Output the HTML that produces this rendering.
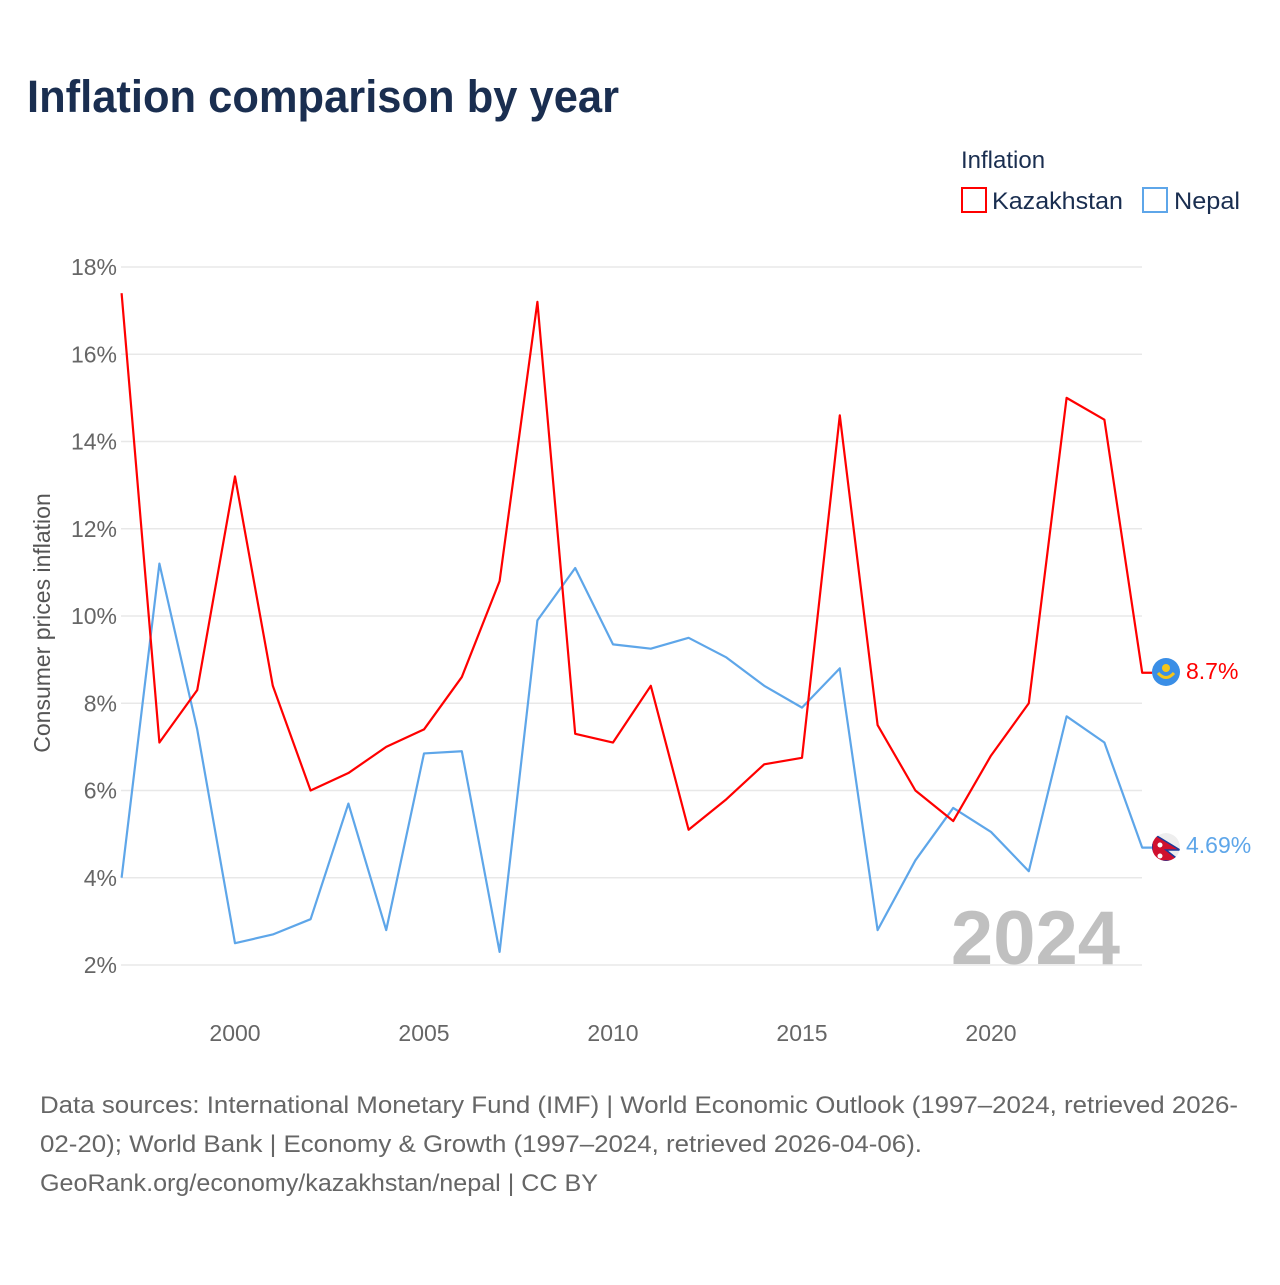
<!DOCTYPE html>
<html><head><meta charset="utf-8"><style>
body{margin:0;background:#fff;font-family:"Liberation Sans",sans-serif;}
</style></head><body>
<svg width="1280" height="1280" xmlns="http://www.w3.org/2000/svg" font-family="Liberation Sans, sans-serif">
<defs><clipPath id="npc"><circle cx="1166" cy="847" r="14"/></clipPath></defs>
<text x="27" y="112" font-size="45" font-weight="bold" fill="#1a2e50" textLength="592" lengthAdjust="spacingAndGlyphs">Inflation comparison by year</text>
<text x="961" y="168" font-size="24" fill="#1a2e50">Inflation</text>
<g><rect x="962" y="188" width="24" height="24" fill="none" stroke="#ff0000" stroke-width="2"/><text x="992" y="209" font-size="24" fill="#1a2e50" textLength="131" lengthAdjust="spacingAndGlyphs">Kazakhstan</text></g>
<g><rect x="1143" y="188" width="24" height="24" fill="none" stroke="#5ea6e9" stroke-width="2"/><text x="1174" y="209" font-size="24" fill="#1a2e50" textLength="66" lengthAdjust="spacingAndGlyphs">Nepal</text></g>
<g id="grid"></g><g id="yt"></g><g id="xt"></g>
<text transform="translate(50,623) rotate(-90)" text-anchor="middle" font-size="23" fill="#555">Consumer prices inflation</text>
<text x="1120" y="964" text-anchor="end" font-size="76" font-weight="bold" fill="#c0c0c0">2024</text>
<g id="series"></g>
<g><circle cx="1166" cy="672" r="14" fill="#3a8ee6"/><circle cx="1166" cy="668" r="4" fill="#f5c518"/><path d="M1158 673 Q1166 682 1174 673" stroke="#f5c518" stroke-width="3" fill="none"/></g>
<text x="1186" y="679" font-size="23" fill="#ff0000">8.7%</text>
<g clip-path="url(#npc)"><circle cx="1166" cy="847" r="14" fill="#eee"/><path d="M1152 833 L1180 850 L1166 850 L1180 861 L1152 861 Z" fill="#d0102e" stroke="#1a3a9a" stroke-width="1.5"/><circle cx="1160" cy="845" r="2.5" fill="#fff"/><circle cx="1160" cy="856" r="2.5" fill="#fff"/></g>
<text x="1186" y="853" font-size="23" fill="#5ea6e9">4.69%</text>
<text font-size="24" fill="#666"><tspan x="40" y="1113" textLength="1198" lengthAdjust="spacingAndGlyphs">Data sources: International Monetary Fund (IMF) | World Economic Outlook (1997–2024, retrieved 2026-</tspan><tspan x="40" y="1152" textLength="882" lengthAdjust="spacingAndGlyphs">02-20); World Bank | Economy &amp; Growth (1997–2024, retrieved 2026-04-06).</tspan><tspan x="40" y="1191" textLength="558" lengthAdjust="spacingAndGlyphs">GeoRank.org/economy/kazakhstan/nepal | CC BY</tspan></text>
</svg>
<script>
const years=[1997,1998,1999,2000,2001,2002,2003,2004,2005,2006,2007,2008,2009,2010,2011,2012,2013,2014,2015,2016,2017,2018,2019,2020,2021,2022,2023,2024];
const kazakhstan=[17.4,7.1,8.3,13.2,8.4,6.0,6.4,7.0,7.4,8.6,10.8,17.2,7.3,7.1,8.4,5.1,5.8,6.6,6.75,14.6,7.5,6.0,5.3,6.8,8.0,15.0,14.5,8.7];
const nepal=[4.0,11.2,7.4,2.5,2.7,3.05,5.7,2.8,6.85,6.9,2.3,9.9,11.1,9.35,9.25,9.5,9.05,8.4,7.9,8.8,2.8,4.4,5.6,5.05,4.15,7.7,7.1,4.69];
const yTicks=[2,4,6,8,10,12,14,16,18];
const xTicks=[2000,2005,2010,2015,2020];
const NS="http://www.w3.org/2000/svg";
const X=y=>121.6+(y-1997)*37.8;
const Y=v=>965-(v-2)*43.625;
function mk(t,a,p){const e=document.createElementNS(NS,t);for(const k in a)e.setAttribute(k,a[k]);p.appendChild(e);return e;}
const g=document.getElementById('grid'),yt=document.getElementById('yt'),xt=document.getElementById('xt'),s=document.getElementById('series');
yTicks.forEach(v=>{
const l=mk('line',{x1:121,x2:1142,y1:Y(v),y2:Y(v),stroke:'#e8e8e8','stroke-width':1.5},g);


const t=mk('text',{x:117,y:Y(v)+8,'text-anchor':'end','font-size':23,fill:'#666'},yt);
t.textContent=v+'%';


});
xTicks.forEach(v=>{
const t=mk('text',{x:X(v),y:1041,'text-anchor':'middle','font-size':23,fill:'#666'},xt);
t.textContent=v;


});
function line(vals,color,name){
let d=vals.map((v,i)=>(i?'L':'M')+X(years[i])+' '+Y(v)).join(' ');
d+=' L'+(X(years[years.length-1])+10)+' '+Y(vals[vals.length-1]);
const p=mk('path',{d:d,fill:'none',stroke:color,'stroke-width':2.2,'stroke-linejoin':'round'},s);


}
line(nepal,'#5ea6e9','nepal-line');
line(kazakhstan,'#ff0000','kazakhstan-line');
</script>
</body></html>
